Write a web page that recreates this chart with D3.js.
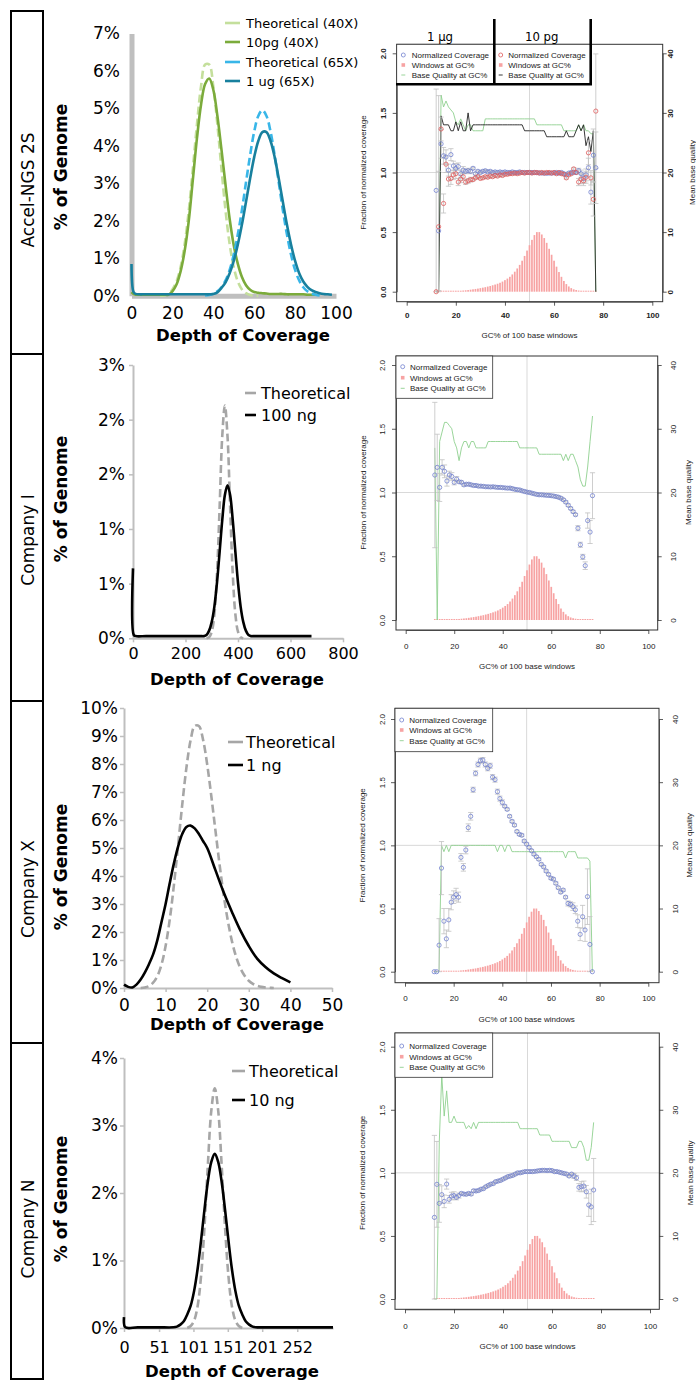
<!DOCTYPE html>
<html><head><meta charset="utf-8">
<script src="https://cdn.jsdelivr.net/npm/d3@7"></script>
<style>body{margin:0;background:#fff}svg{display:block}</style>
</head><body>
<svg id="chart" width="696" height="1382"></svg>
<script>
// ---------------- DATA ----------------
const rowLabels = ["Accel-NGS 2S", "Company I", "Company X", "Company N"];

// Left column: depth-of-coverage distributions (% of genome)
const depthAccel = [0,1,2,4,6,8,10,12,14,16,18,20,22,24,26,28,30,32,34,36,38,40,42,44,46,48,50,52,54,56,58,60,62,64,66,68,70,72,74,76,78,80,82,84,86,88,90,92,94,96,98];
const theo40X = [null,null,null,null,null,null,null,null,
  0,0.01,0.05,0.17,0.38,0.76,1.38,2.27,3.39,4.57,5.59,6.17,6.17,5.59,4.57,3.39,2.27,1.38,0.76,0.38,0.17,0.07,0.02,0,0,
  null,null,null,null,null,null,null,null,null,null,null,null,null,null,null,null,null,null];
const pg10_40X = [0.1,0.05,0.03,0.03,0.03,0.03,0.03,0.03,0.03,0.03,0.03,
  0.12,0.3,0.65,1.2,2.0,3.1,4.2,5.1,5.65,5.8,5.5,4.8,3.9,2.95,2.05,1.35,0.85,0.5,0.28,0.16,0.1,0.08,0.07,0.06,0.05,0.05,0.05,0.05,0.04,0.04,0.04,0.04,0.04,0.03,0.03,0.03,
  null,null,null,null];
const theo65X = [null,null,null,null,null,null,null,null,null,null,null,null,null,null,null,null,null,null,null,
  0.01,0.02,0.06,0.12,0.23,0.41,0.69,1.10,1.64,2.29,3.03,3.75,4.38,4.80,4.95,4.80,4.38,3.75,3.03,2.29,1.64,1.10,0.69,0.41,0.23,0.12,0.06,0.03,0.01,0,
  null,null];
const ug1_65X = [0.85,0.1,0.05,0.04,0.04,0.04,0.04,0.04,0.04,0.04,0.04,0.04,0.04,0.04,0.04,0.04,0.04,0.04,0.04,0.04,0.04,
  0.05,0.09,0.21,0.36,0.6,0.93,1.37,1.9,2.51,3.13,3.7,4.13,4.37,4.37,4.13,3.7,3.13,2.51,1.9,1.37,0.93,0.6,0.38,0.24,0.15,0.1,0.07,0.05,0.04,0.03];

const depthI_theo = [280,290,300,310,320,330,340,350,360,370,380,390,400,410,420];
const theoI = [0,0.01,0.06,0.22,0.59,1.20,1.85,2.13,1.85,1.20,0.59,0.22,0.06,0.01,0];
const depthI_ng = [0,3,10,50,100,150,200,250,260,270,280,290,300,310,320,330,340,350,360,370,380,390,400,410,420,430,440,450,460,500,550,600,680];
const ng100 = [0.64,0.03,0.02,0.02,0.02,0.02,0.02,0.02,
  0.02,0.02,0.03,0.07,0.15,0.29,0.51,0.79,1.08,1.31,1.40,1.31,1.08,0.79,0.51,0.29,0.15,0.07,0.03,0.02,0.02,
  0.02,0.02,0.02,0.02];

const depthX_theo = [4,5,6,7,8,9,10,11,12,13,14,15,16,17,18,19,20,21,22,23,24,25,26,27,28,29,30,31,32,33,34,35,36];
const theoX = [0,0.02,0.07,0.19,0.42,0.83,1.5,2.45,3.68,5.09,6.55,7.86,8.84,9.36,9.36,8.87,7.98,6.84,5.6,4.38,3.28,2.37,1.64,1.09,0.7,0.44,0.26,0.15,0.08,0.04,0.02,0.01,0];
const depthX_ng = [0,1,2,3,4,5,6,7,8,9,10,11,12,13,14,15,16,17,18,19,20,22,24,26,28,30,32,34,36,38,40];
const ng1 = [0.12,0.04,0.02,0.12,0.3,0.55,0.85,1.2,1.7,2.35,3.0,3.75,4.45,5.05,5.5,5.75,5.8,5.7,5.5,5.25,5.0,4.2,3.4,2.7,2.05,1.5,1.05,0.75,0.52,0.35,0.2];

const depthN_theo = [92,97,102,107,112,117,122,127,132,137,142,147,152,157,162,167,172];
const theoN = [0,0.03,0.11,0.32,0.76,1.49,2.42,3.22,3.55,3.22,2.42,1.49,0.76,0.32,0.11,0.03,0];
const depthN_ng = [0,2,20,50,72,77,82,87,92,97,102,107,112,117,122,127,132,137,142,147,152,157,162,167,172,177,182,187,192,197,220,260,304];
const ng10 = [0.16,0.01,0.01,0.01,0.01,
  0.02,0.05,0.1,0.2,0.33,0.55,0.87,1.29,1.75,2.17,2.46,2.58,2.46,2.17,1.75,1.29,0.87,0.55,0.33,0.2,0.1,0.05,0.02,0.01,0.01,
  0.01,0.01,0.01];

// tick labels (left column)
const yTicksAccel = [0,1,2,3,4,5,6,7], yLabelsAccel = ["0%","1%","2%","3%","4%","5%","6%","7%"];
const xTicksAccel = [0,20,40,60,80,100];
const yTicksI = [0,0.5,1,1.5,2,2.5], yLabelsI = ["0%","1%","1%","2%","2%","3%"];
const xTicksI = [0,200,400,600,800];
const yTicksX = [0,1,2,3,4,5,6,7,8,9,10], yLabelsX = ["0%","1%","2%","3%","4%","5%","6%","7%","8%","9%","10%"];
const xTicksX = [0,10,20,30,40,50];
const yTicksN = [0,1,2,3,4], yLabelsN = ["0%","1%","2%","3%","4%"];
const xTicksN = [0,51,101,151,201,252];

// Right column: GC bias plots
const gcPct = [12,13,14,15,16,17,18,19,20,21,22,23,24,25,26,27,28,29,30,31,32,33,34,35,36,37,38,39,40,41,
  42,43,44,45,46,47,48,49,50,51,52,53,54,55,56,57,58,59,60,61,62,63,64,65,66,67,68,69,70,71,72,73,74,75,76,77];
const windowsAtGC = [0.004,0.003,0.003,0.003,0.003,0.004,0.004,0.005,0.006,0.007,
  0.008,0.010,0.012,0.014,0.017,0.020,0.023,0.026,0.030,0.034,
  0.038,0.043,0.048,0.054,0.060,0.067,0.075,0.085,0.097,0.110,
  0.125,0.145,0.168,0.195,0.225,0.260,0.300,0.345,0.390,0.435,
  0.475,0.500,0.500,0.480,0.450,0.410,0.360,0.310,0.260,0.210,
  0.165,0.125,0.090,0.064,0.044,0.030,0.020,0.014,0.010,0.007,
  0.005,0.004,0.004,0.003,0.003,0.003];

const covAccel1ug = [0.85,0.51,1.24,1.14,1.13,1.02,1.15,1.055,1.035,1.05,
  0.99,1.02,1.01,1.015,1.01,1.035,0.99,1.01,1.0,1.01,
  1.015,1.005,1.01,1.0,1.005,1.0,1.005,1.0,1.005,1.0,
  1.0,1.005,1.0,1.0,1.005,1.0,1.0,1.0,1.0,1.0,
  1.0,0.998,0.997,0.995,0.995,0.993,0.995,0.995,0.997,1.0,
  0.995,1.0,0.99,0.98,0.995,1.0,1.0,1.0,1.015,0.99,
  0.95,0.98,1.04,0.835,1.145,1.04];
const errAccel1ug = [0.85,0.5,0.12,0.07,0.06,0.05,0.05,0.04,0.04,0.03,
  0.03,0.03,0.02,0.02,0.02,0.01,0.01,0.01,0.01,0.01,
  0.01,0.01,0.01,0.01,0.01,0.01,0.01,0.01,0.01,0.01,
  0.01,0.01,0.01,0.01,0.01,0.01,0.01,0.01,0.01,0.01,
  0.01,0.01,0.01,0.01,0.01,0.01,0.01,0.01,0.01,0.01,
  0.01,0.01,0.01,0.01,0.01,0.01,0.01,0.01,0.02,0.03,
  0.04,0.05,0.08,0.1,0.22,0.3];
const covAccel10pg = [0.0,0.545,1.365,0.74,1.07,0.945,0.95,0.98,0.99,0.92,
  0.945,0.965,0.92,0.93,0.94,0.94,0.955,0.965,0.95,0.955,
  0.965,0.96,0.97,0.965,0.975,0.97,0.98,0.975,0.985,0.985,
  0.99,0.99,0.995,0.99,0.995,1.0,0.995,1.0,1.0,0.995,
  1.0,1.0,0.995,1.0,0.995,1.0,1.0,0.995,1.0,0.99,
  1.0,0.99,0.985,0.955,0.98,0.99,1.03,1.0,0.92,0.945,
  0.93,0.96,1.165,0.955,0.775,1.515];
const errAccel10pg = [0,1.1,0.1,0.08,0.07,0.06,0.05,0.04,0.04,0.03,
  0.03,0.03,0.02,0.02,0.02,0.01,0.01,0.01,0.01,0.01,
  0.01,0.01,0.01,0.01,0.01,0.01,0.01,0.01,0.01,0.01,
  0.01,0.01,0.01,0.01,0.01,0.01,0.01,0.01,0.01,0.01,
  0.01,0.01,0.01,0.01,0.01,0.01,0.01,0.01,0.01,0.01,
  0.01,0.01,0.01,0.01,0.01,0.01,0.01,0.01,0.03,0.04,
  0.04,0.05,0.1,0.06,0.14,0.48];
const qualAccel1ug = [0,0,33,31,32,31,30.5,30,28.5,28,
  29,28,27,28,28,27,27,27,27,27,
  29,29,29,29,29,29,29,29,29,29,
  29,29,29,29,29,29,29,29,29,29,
  29,28,28,28,28,28,28,28,28,28,
  28,28,27,27,27,27,27,27,28,27,
  28,27,27,26.5,26.5,0];
const qualAccel10pg = [0,0,29.5,28,28,28,27,27,28.5,27,
  28.5,27,27,30,27,28,28,28,28,28,
  28,28,28,28,28,28,28,28,28,28,
  28,28,28,28,28,28,27,27,27,27,
  27,27,27,27,27,26,26,26,26,26,
  26,26,26,27,26,26,26,27,28,27,
  28,24.5,26,23.5,27,0];

const covI = [1.137,1.197,1.04,1.197,1.166,1.09,1.137,1.126,1.08,1.105,
  1.084,1.08,1.06,1.065,1.065,1.06,1.055,1.055,1.05,1.05,
  1.048,1.045,1.045,1.043,1.045,1.042,1.04,1.04,1.038,1.036,
  1.034,1.035,1.03,1.025,1.022,1.02,1.013,1.008,1.003,1.0,
  0.995,0.99,0.985,0.982,0.982,0.98,0.978,0.977,0.975,0.972,
  0.968,0.963,0.955,0.943,0.925,0.9,0.875,0.85,0.826,0.72,
  0.59,0.495,0.426,0.78,0.69,0.975];
const errI = [0.57,0.26,0.11,0.06,0.05,0.04,0.03,0.03,0.02,0.02,
  0.01,0.01,0.01,0.01,0.01,0.01,0.01,0.01,0.01,0.01,
  0.01,0.01,0.01,0.01,0.01,0.01,0.01,0.01,0.01,0.01,
  0.01,0.01,0.01,0.01,0.01,0.01,0.01,0.01,0.01,0.01,
  0.01,0.01,0.01,0.01,0.01,0.01,0.01,0.01,0.01,0.01,
  0.01,0.01,0.01,0.01,0.01,0.01,0.01,0.01,0.01,0.02,
  0.02,0.02,0.03,0.06,0.09,0.18];
const qualI = [27,0,28,29.5,31,31,30.5,30,28,27,
  25,27,28,28,27,28,28,27,27,27,
  27,27,28,28,28,28,28,28,28,28,
  28,28,28,28,28,27,27,27,27,27,
  27,27,27,26,26,26,26,26,26,26,
  26,26,26,25,26,25,26,26,25,24,
  22,21,21,24,28,32];

const covX = [0,0,0.21,0.82,0.40,0.26,0.41,0.55,0.59,0.61,
  0.59,0.905,0.826,0.963,1.14,1.23,1.44,1.57,1.64,1.67,
  1.675,1.64,1.61,1.63,1.54,1.52,1.425,1.37,1.34,1.31,
  1.285,1.23,1.19,1.16,1.11,1.087,1.08,1.034,1.01,0.984,
  0.958,0.93,0.91,0.89,0.85,0.83,0.797,0.77,0.74,0.733,
  0.70,0.665,0.63,0.646,0.59,0.54,0.533,0.515,0.49,0.40,
  0.296,0.435,0.33,0.594,0.216,0];
const errX = [0,0,0.21,0.21,0.1,0.07,0.09,0.06,0.05,0.05,
  0.04,0.03,0.03,0.03,0.03,0.03,0.02,0.02,0.02,0.02,
  0.02,0.02,0.02,0.02,0.02,0.02,0.02,0.02,0.02,0.01,
  0.01,0.01,0.01,0.01,0.01,0.01,0.01,0.01,0.01,0.01,
  0.01,0.01,0.01,0.01,0.01,0.01,0.01,0.01,0.01,0.01,
  0.01,0.01,0.01,0.01,0.01,0.02,0.02,0.03,0.03,0.05,
  0.05,0.09,0.09,0.22,0.22,0];
const qualX = [0,0,0,20,19,20,19,20,20,20,
  20,20,20,20,20,20,20,20,20,20,
  20,20,20,20,20,20,19,20,20,19,
  20,20,19,19,19,19,19,19,19,19,
  19,19,19,19,19,19,19,19,19,19,
  19,19,19,19,18,19,19,19,19,18,
  18,18,18,18,17.5,0];

const covN = [0.647,0.909,0.758,0.827,0.774,0.911,0.79,0.816,0.82,0.806,
  0.82,0.837,0.832,0.83,0.837,0.832,0.858,0.856,0.86,0.87,
  0.875,0.89,0.9,0.91,0.915,0.93,0.935,0.94,0.95,0.96,
  0.97,0.975,0.98,0.99,1.0,1.0,1.005,1.01,1.01,1.01,
  1.01,1.012,1.015,1.018,1.02,1.02,1.018,1.02,1.018,1.01,
  1.01,1.005,1.0,0.995,0.99,0.975,0.99,0.975,0.96,0.885,
  0.89,0.895,0.85,0.745,0.73,0.864];
const errN = [0.65,0.34,0.15,0.07,0.05,0.04,0.03,0.03,0.03,0.02,
  0.02,0.01,0.01,0.01,0.01,0.01,0.01,0.01,0.01,0.01,
  0.01,0.01,0.01,0.01,0.01,0.01,0.01,0.01,0.01,0.01,
  0.01,0.01,0.01,0.01,0.01,0.01,0.01,0.01,0.01,0.01,
  0.01,0.01,0.01,0.01,0.01,0.01,0.01,0.01,0.01,0.01,
  0.01,0.01,0.01,0.01,0.01,0.01,0.01,0.02,0.02,0.03,
  0.04,0.04,0.05,0.09,0.14,0.25];
const qualN = [0,0,25,35.5,29,33,28,28,29,28,
  28,28,28,27,27.5,27,28,27,28,28,
  28,28,28,28,28,28,28,28,28,28,
  28,28,28,28,28,27,27,27,27,27,
  27,27,27,26,26,26,26,26,25,25,
  25,25,25,25,25,25,24,24,24,25,
  25,24,22,22,24,28];

const xTicksGC = [0,20,40,60,80,100];
const yTicksCov = [0,0.5,1,1.5,2];
const yTicksQual = [0,10,20,30,40];

// ---------------- DRAW ----------------
const svg = d3.select("#chart");
const FONT_L = "'DejaVu Sans', Verdana, sans-serif";
const FONT_R = "'Liberation Sans', Arial, sans-serif";

// row label boxes
const rowEdges = [11, 354, 701, 1043, 1379];
const rowLabelY = [190, 540, 889, 1229];
rowLabels.forEach((t, i) => {
  svg.append("rect").attr("x", 11).attr("y", rowEdges[i]).attr("width", 32)
    .attr("height", rowEdges[i + 1] - rowEdges[i]).attr("fill", "none")
    .attr("stroke", "#000").attr("stroke-width", 2);
  svg.append("text").attr("transform", `translate(28,${rowLabelY[i]}) rotate(-90)`)
    .attr("text-anchor", "middle").attr("dominant-baseline", "central")
    .style("font-family", FONT_L).style("font-size", "17px").text(t);
});

function drawLeft(p) {
  const g = svg.append("g");
  const x = d3.scaleLinear().domain(p.xDomain).range(p.xRange);
  const y = d3.scaleLinear().domain(p.yDomain).range(p.yRange);
  const ya = g.append("g").attr("transform", `translate(${p.xRange[0]},0)`)
    .call(d3.axisLeft(y).tickValues(p.yTicks).tickFormat((d, i) => p.yLabels[i])
      .tickSize(p.tick).tickSizeOuter(0).tickPadding(p.yPad));
  const xa = g.append("g").attr("transform", `translate(0,${p.yRange[0]})`)
    .call(d3.axisBottom(x).tickValues(p.xTicks).tickFormat(d => String(d))
      .tickSize(p.tick).tickSizeOuter(0).tickPadding(p.xPad));
  [ya, xa].forEach(a => {
    a.select(".domain").attr("stroke", "#bfbfbf").attr("stroke-width", p.axisW);
    a.selectAll(".tick line").attr("stroke", "#bfbfbf").attr("stroke-width", 1.5);
    a.selectAll("text").attr("fill", "#000").style("font-family", FONT_L);
  });
  ya.selectAll("text").style("font-size", p.yFont + "px");
  xa.selectAll("text").style("font-size", p.xFont + "px");

  const line = d3.line().defined(d => d[1] != null)
    .x(d => x(d[0])).y(d => y(d[1])).curve(d3.curveCatmullRom.alpha(0.5));
  p.series.forEach(s => {
    g.append("path").attr("d", line(s.x.map((d, i) => [d, s.y[i]])))
      .attr("fill", "none").attr("stroke", s.color).attr("stroke-width", 2.6)
      .attr("stroke-linejoin", "round")
      .attr("stroke-dasharray", s.dash ? "8,4" : null);
  });
  // legend
  p.series.forEach((s, i) => {
    const ry = p.leg.rows[i];
    g.append("line").attr("x1", p.leg.x0).attr("x2", p.leg.x1).attr("y1", ry).attr("y2", ry)
      .attr("stroke", s.color).attr("stroke-width", 2.6);
    g.append("text").attr("x", p.leg.tx).attr("y", ry).attr("dy", "0.36em")
      .style("font-family", FONT_L).style("font-size", p.leg.font + "px").text(s.label);
  });
  // titles
  g.append("text").attr("transform", `translate(${p.ty[0]},${p.ty[1]}) rotate(-90)`)
    .attr("text-anchor", "middle").attr("dominant-baseline", "central")
    .style("font-family", FONT_L).style("font-weight", "bold").style("font-size", "17px")
    .text("% of Genome");
  g.append("text").attr("x", p.tx[0]).attr("y", p.tx[1])
    .attr("text-anchor", "middle").attr("dominant-baseline", "central")
    .style("font-family", FONT_L).style("font-weight", "bold").style("font-size", "16.5px")
    .text("Depth of Coverage");
}

drawLeft({
  xDomain: [0, 100], xRange: [131.5, 336], yDomain: [0, 7], yRange: [295.8, 33.5],
  yTicks: yTicksAccel, yLabels: yLabelsAccel, xTicks: xTicksAccel,
  tick: 0, yPad: 11.5, xPad: 11.5, axisW: 5, yFont: 17, xFont: 17,
  series: [
    {x: depthAccel, y: theo40X, color: "#c4df9c", dash: true, label: "Theoretical (40X)"},
    {x: depthAccel, y: pg10_40X, color: "#7bab3b", dash: false, label: "10pg (40X)"},
    {x: depthAccel, y: theo65X, color: "#38b6e8", dash: true, label: "Theoretical (65X)"},
    {x: depthAccel, y: ug1_65X, color: "#18809e", dash: false, label: "1 ug (65X)"}
  ],
  leg: {x0: 225, x1: 240, tx: 246, rows: [23, 42, 62, 81], font: 13},
  ty: [60.5, 167], tx: [243, 335]
});
drawLeft({
  xDomain: [0, 800], xRange: [133, 343], yDomain: [0, 2.5], yRange: [638.3, 365],
  yTicks: yTicksI, yLabels: yLabelsI, xTicks: xTicksI,
  tick: 4, yPad: 4, xPad: 5.2, axisW: 2, yFont: 17, xFont: 16,
  series: [
    {x: depthI_theo, y: theoI, color: "#a6a6a6", dash: true, label: "Theoretical"},
    {x: depthI_ng, y: ng100, color: "#000", dash: false, label: "100 ng"}
  ],
  leg: {x0: 245, x1: 256, tx: 261, rows: [393, 415], font: 16},
  ty: [60.5, 499], tx: [237, 679]
});
drawLeft({
  xDomain: [0, 50], xRange: [124, 332], yDomain: [0, 10], yRange: [988, 708],
  yTicks: yTicksX, yLabels: yLabelsX, xTicks: xTicksX,
  tick: 4, yPad: 2, xPad: 7.1, axisW: 2, yFont: 17, xFont: 17,
  series: [
    {x: depthX_theo, y: theoX, color: "#a6a6a6", dash: true, label: "Theoretical"},
    {x: depthX_ng, y: ng1, color: "#000", dash: false, label: "1 ng"}
  ],
  leg: {x0: 228, x1: 243, tx: 246, rows: [742, 765], font: 16},
  ty: [60.5, 867], tx: [237, 1024]
});
drawLeft({
  xDomain: [0, 304], xRange: [124, 333], yDomain: [0, 4], yRange: [1328, 1058],
  yTicks: yTicksN, yLabels: yLabelsN, xTicks: xTicksN,
  tick: 4, yPad: 2, xPad: 9.9, axisW: 2, yFont: 17, xFont: 16,
  series: [
    {x: depthN_theo, y: theoN, color: "#a6a6a6", dash: true, label: "Theoretical"},
    {x: depthN_ng, y: ng10, color: "#000", dash: false, label: "10 ng"}
  ],
  leg: {x0: 232, x1: 245, tx: 249, rows: [1071, 1100], font: 16},
  ty: [60.5, 1199], tx: [232, 1371]
});

// ---------- right column (R style plots) ----------
function legendR(g, bx0, bx1, by0, by1, symX, textX, rows, covColor, qualColor) {
  g.append("rect").attr("x", bx0).attr("y", by0).attr("width", bx1 - bx0).attr("height", by1 - by0)
    .attr("fill", "#fff").attr("stroke", "#333").attr("stroke-width", 0.8);
  g.append("circle").attr("cx", symX).attr("cy", rows[0]).attr("r", 2)
    .attr("fill", "none").attr("stroke", covColor).attr("stroke-width", 0.8);
  g.append("rect").attr("x", symX - 1.8).attr("y", rows[1] - 1.8).attr("width", 3.6).attr("height", 3.6)
    .attr("fill", "#f7a3a3");
  g.append("line").attr("x1", symX - 2).attr("x2", symX + 2).attr("y1", rows[2]).attr("y2", rows[2])
    .attr("stroke", qualColor).attr("stroke-width", 0.9);
  ["Normalized Coverage", "Windows at GC%", "Base Quality at GC%"].forEach((t, i) => {
    g.append("text").attr("x", textX).attr("y", rows[i]).attr("dy", "0.35em")
      .attr("fill", "#222").style("font-size", "8px").text(t);
  });
}

function drawR(p) {
  const g = svg.append("g").style("font-family", FONT_R);
  const x = d3.scaleLinear().domain([0, 100]).range([p.x0, p.x100]);
  const yL = d3.scaleLinear().domain([0, 2]).range([p.y0, p.y2]);
  const yR = d3.scaleLinear().domain([0, 40]).range([p.y0, p.y2]);

  g.append("line").attr("x1", x(50)).attr("x2", x(50)).attr("y1", p.boxT).attr("y2", p.boxB)
    .attr("stroke", "#d9d9d9").attr("stroke-width", 1);
  g.append("line").attr("x1", p.boxL).attr("x2", p.boxR).attr("y1", yL(1)).attr("y2", yL(1))
    .attr("stroke", "#d9d9d9").attr("stroke-width", 1);

  g.append("g").selectAll("rect").data(gcPct).join("rect")
    .attr("x", d => x(d) - 0.85).attr("width", 1.7)
    .attr("y", (d, i) => Math.min(yL(windowsAtGC[i]), yL(0) - 1))
    .attr("height", (d, i) => Math.max(yL(0) - yL(windowsAtGC[i]), 1))
    .attr("fill", "#f7a3a3");

  p.qual.forEach(q => {
    g.append("path").attr("d", d3.line().x(d => x(d)).y((d, i) => yR(q.v[i]))(gcPct))
      .attr("fill", "none").attr("stroke", q.color).attr("stroke-width", 0.9);
  });

  p.cov.forEach(c => {
    const pts = gcPct.map((gc, i) => ({gc, v: c.v[i], e: c.e[i]}));
    const eb = g.append("g").attr("stroke", "#c2c2c2").attr("stroke-width", 0.8);
    const withErr = pts.filter(d => d.e > 0);
    eb.selectAll(".v").data(withErr).join("line").attr("class", "v")
      .attr("x1", d => x(d.gc)).attr("x2", d => x(d.gc))
      .attr("y1", d => yL(Math.max(0, d.v - d.e))).attr("y2", d => yL(d.v + d.e));
    eb.selectAll(".t").data(withErr).join("line").attr("class", "t")
      .attr("x1", d => x(d.gc) - 2.6).attr("x2", d => x(d.gc) + 2.6)
      .attr("y1", d => yL(d.v + d.e)).attr("y2", d => yL(d.v + d.e));
    eb.selectAll(".b").data(withErr).join("line").attr("class", "b")
      .attr("x1", d => x(d.gc) - 2.6).attr("x2", d => x(d.gc) + 2.6)
      .attr("y1", d => yL(Math.max(0, d.v - d.e))).attr("y2", d => yL(Math.max(0, d.v - d.e)));
  });
  p.cov.forEach(c => {
    g.append("g").selectAll("circle").data(gcPct).join("circle")
      .attr("cx", d => x(d)).attr("cy", (d, i) => yL(c.v[i])).attr("r", 2.1)
      .attr("fill", "none").attr("stroke", c.color).attr("stroke-width", 0.8);
  });

  g.append("rect").attr("x", p.boxL).attr("y", p.boxT).attr("width", p.boxR - p.boxL)
    .attr("height", p.boxB - p.boxT).attr("fill", "none").attr("stroke", "#333").attr("stroke-width", 1);

  const styleAxis = a => {
    a.select(".domain").attr("stroke", "#333").attr("stroke-width", 0.8);
    a.selectAll(".tick line").attr("stroke", "#333").attr("stroke-width", 0.8);
    a.selectAll("text").attr("fill", "#222").style("font-size", "8px")
      .style("font-family", FONT_R).style("font-weight", p.bold ? "bold" : "normal");
  };
  const axL = g.append("g").attr("transform", `translate(${p.boxL},0)`)
    .call(d3.axisLeft(yL).tickValues(yTicksCov).tickFormat(d3.format(".1f")).tickSize(4).tickSizeOuter(0));
  styleAxis(axL);
  axL.selectAll("text").attr("transform", "rotate(-90)").attr("x", 0).attr("dy", 0)
    .attr("y", -(p.lblL - 2.9)).attr("text-anchor", "middle");
  const axR = g.append("g").attr("transform", `translate(${p.boxR},0)`)
    .call(d3.axisRight(yR).tickValues(yTicksQual).tickFormat(d3.format("d")).tickSize(4).tickSizeOuter(0));
  styleAxis(axR);
  axR.selectAll("text").attr("transform", "rotate(-90)").attr("x", 0).attr("dy", 0)
    .attr("y", p.lblR + 2.9).attr("text-anchor", "middle");
  const axB = g.append("g").attr("transform", `translate(0,${p.boxB})`)
    .call(d3.axisBottom(x).tickValues(xTicksGC).tickFormat(d3.format("d")).tickSize(4)
      .tickSizeOuter(0).tickPadding(p.lblB - 6.9));
  styleAxis(axB);

  g.append("text").attr("transform", `translate(${p.titleLx},${yL(1)}) rotate(-90)`)
    .attr("text-anchor", "middle").attr("dominant-baseline", "central")
    .attr("fill", "#222").style("font-size", "8px").text("Fraction of normalized coverage");
  g.append("text").attr("transform", `translate(${p.titleRx},${yL(1)}) rotate(-90)`)
    .attr("text-anchor", "middle").attr("dominant-baseline", "central")
    .attr("fill", "#222").style("font-size", "8px").text("Mean base quality");
  g.append("text").attr("x", x(50)).attr("y", p.boxB + p.titleB)
    .attr("text-anchor", "middle").attr("dominant-baseline", "central")
    .attr("fill", "#222").style("font-size", "8px").text("GC% of 100 base windows");
  return g;
}

// Panel 1 (Accel-NGS 2S)
const g1 = drawR({boxL: 396.7, boxR: 662.7, boxT: 44.3, boxB: 301.7, x0: 406.7, x100: 652.3,
  y0: 291.7, y2: 53.3, lblL: 13.7, lblR: 7.5, lblB: 13.3, titleB: 33.3, titleLx: 363, titleRx: 692, bold: true,
  cov: [{v: covAccel1ug, e: errAccel1ug, color: "#7282cf"}, {v: covAccel10pg, e: errAccel10pg, color: "#e05a5a"}],
  qual: [{v: qualAccel1ug, color: "#8fd08f"}, {v: qualAccel10pg, color: "#222"}]});
legendR(g1, 396.7, 494.3, 44.3, 84.3, 403.3, 411.7, [55, 65, 75], "#7282cf", "#8fd08f");
legendR(g1, 494.3, 590.7, 44.3, 84.3, 500.7, 508.3, [55, 65, 75], "#e05a5a", "#222");
g1.append("path").attr("d", "M494.3,19V85.5M590.7,19V85.5M396,84.3H592")
  .attr("fill", "none").attr("stroke", "#000").attr("stroke-width", 2.6);
g1.append("text").attr("x", 440).attr("y", 36.5).attr("text-anchor", "middle").attr("dominant-baseline", "central")
  .style("font-family", "'DejaVu Sans Condensed', 'DejaVu Sans'").style("font-size", "13px").text("1 µg");
g1.append("text").attr("x", 541.7).attr("y", 36.5).attr("text-anchor", "middle").attr("dominant-baseline", "central")
  .style("font-family", "'DejaVu Sans Condensed', 'DejaVu Sans'").style("font-size", "13px").text("10 pg");

// Panel 2 (Company I)
const g2 = drawR({boxL: 396, boxR: 657.7, boxT: 356, boxB: 630, x0: 405.7, x100: 648.3,
  y0: 620, y2: 365, lblL: 14.3, lblR: 15.6, lblB: 16.7, titleB: 36.7, titleLx: 363.3, titleRx: 688.3,
  cov: [{v: covI, e: errI, color: "#7282cf"}], qual: [{v: qualI, color: "#8fd08f"}]});
legendR(g2, 396, 492.7, 356, 398.3, 402.7, 410, [366.7, 377.7, 388.3], "#7282cf", "#8fd08f");

// Panel 3 (Company X)
const g3 = drawR({boxL: 395, boxR: 659, boxT: 708.3, boxB: 982.7, x0: 405, x100: 648.3,
  y0: 971.7, y2: 719, lblL: 13.3, lblR: 16, lblB: 15.6, titleB: 36.6, titleLx: 362, titleRx: 689.3,
  cov: [{v: covX, e: errX, color: "#7282cf"}], qual: [{v: qualX, color: "#8fd08f"}]});
legendR(g3, 395, 492.7, 708.3, 751.7, 401.7, 409.3, [720, 730, 740.7], "#7282cf", "#8fd08f");

// Panel 4 (Company N)
const g4 = drawR({boxL: 395, boxR: 659.3, boxT: 1033, boxB: 1309.3, x0: 405, x100: 650,
  y0: 1299, y2: 1046.7, lblL: 13.3, lblR: 15.7, lblB: 17.4, titleB: 36.7, titleLx: 362, titleRx: 690,
  cov: [{v: covN, e: errN, color: "#7282cf"}], qual: [{v: qualN, color: "#8fd08f"}]});
legendR(g4, 395, 492.7, 1033, 1077.3, 401.7, 409.3, [1046, 1056.7, 1067.3], "#7282cf", "#8fd08f");
</script>
</body></html>
